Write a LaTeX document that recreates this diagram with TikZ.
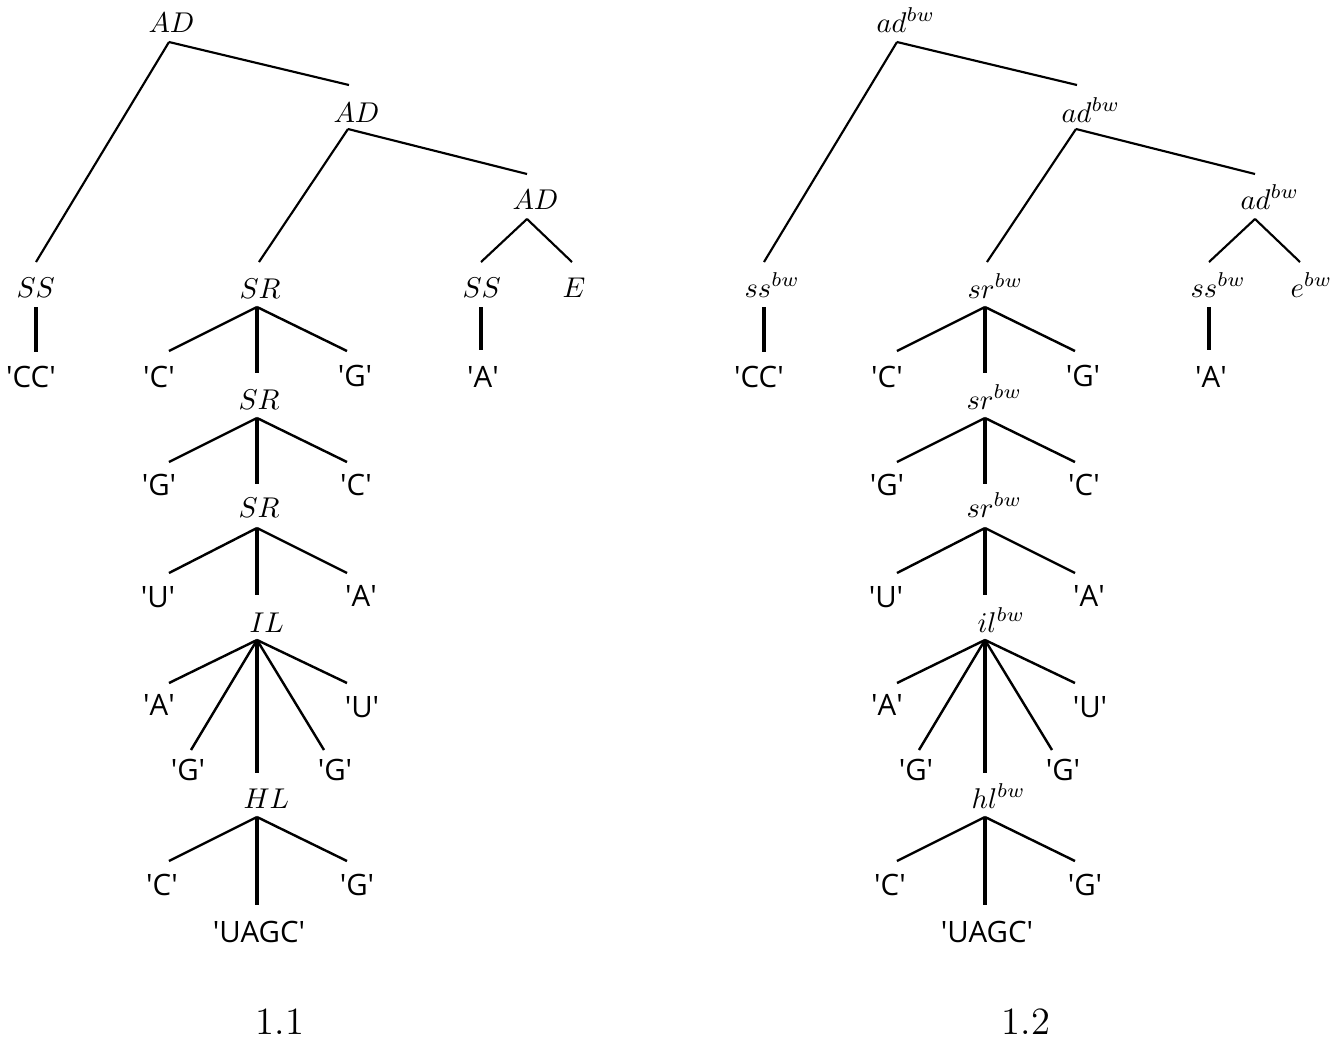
\documentclass[tikz,border=0pt]{standalone}
\usepackage{fontspec}
\newfontfamily\leaffont{Open Sans}[Ligatures=TeXOff]
\newcommand\qq{\textquotesingle}
\tikzset{
  lab/.style={anchor=base west, inner sep=0pt, font=\fontsize{10}{12}\selectfont},
  leaf/.style={anchor=base, inner sep=0pt, font=\leaffont\fontsize{10.3}{12}\selectfont},
  captext/.style={anchor=base, inner sep=0pt, font=\fontsize{13.5}{16}\selectfont},
  topedge/.style={line width=0.75pt},
  edge/.style={line width=0.85pt},
  vedge/.style={line width=1.3pt}
}
% #1 prefix, #2 AD, #3 SS, #4 SR, #5 E, #6 IL, #7 HL
\newcommand\rnatree[7]{%
  % upper part
  \node[lab] (#1ad1) at (148,32) {$#2$};
  \coordinate (#1ad1a) at (169,42);
  \node[lab] (#1ss1) at (16,297) {$#3$};
  \coordinate (#1ss1t) at (36,262);
  \coordinate (#1ss1a) at (36,307);
  \node[lab] (#1ad2) at (333,122) {$#2$};
  \coordinate (#1ad2t) at (349,85);
  \coordinate (#1ad2a) at (348,129);
  \node[lab] (#1sr1) at (239,298) {$#4$};
  \coordinate (#1sr1t) at (259,262);
  \coordinate (#1sr1a) at (257,307);
  \node[lab] (#1ad3) at (512,209) {$#2$};
  \coordinate (#1ad3t) at (527,174);
  \coordinate (#1ad3a) at (527,219);
  \node[lab] (#1ss2) at (462,297) {$#3$};
  \coordinate (#1ss2t) at (481,262);
  \coordinate (#1ss2a) at (481,307);
  \node[lab] (#1e) at (562,297) {$#5$};
  \coordinate (#1et) at (572,262);
  \draw[topedge] (#1ad1a) -- (#1ss1t);
  \draw[topedge] (#1ad1a) -- (#1ad2t);
  \draw[topedge] (#1ad2a) -- (#1sr1t);
  \draw[topedge] (#1ad2a) -- (#1ad3t);
  \draw[topedge] (#1ad3a) -- (#1ss2t);
  \draw[topedge] (#1ad3a) -- (#1et);
  % single strand leaves
  \node[leaf] (#1cc) at (31,387) {\qq CC\qq};
  \coordinate (#1cct) at (36,352);
  \draw[vedge] (#1ss1a) -- (#1cct);
  \node[leaf] (#1a0) at (483,387) {\qq A\qq};
  \coordinate (#1a0t) at (481,350);
  \draw[vedge] (#1ss2a) -- (#1a0t);
  % sr1
  \node[leaf] (#1c1) at (159,387) {\qq C\qq};
  \coordinate (#1c1t) at (169,351);
  \node[leaf] (#1g1) at (355,386) {\qq G\qq};
  \coordinate (#1g1t) at (347,351);
  \node[lab] (#1sr2) at (238,409) {$#4$};
  \coordinate (#1sr2t) at (257,373);
  \coordinate (#1sr2a) at (257,418);
  \draw[edge] (#1sr1a) -- (#1c1t);
  \draw[edge] (#1sr1a) -- (#1g1t);
  \draw[vedge] (#1sr1a) -- (#1sr2t);
  % sr2
  \node[leaf] (#1g2) at (159,495) {\qq G\qq};
  \coordinate (#1g2t) at (169,462);
  \node[leaf] (#1c2) at (356,495) {\qq C\qq};
  \coordinate (#1c2t) at (347,462);
  \node[lab] (#1sr3) at (238,517) {$#4$};
  \coordinate (#1sr3t) at (257,484);
  \coordinate (#1sr3a) at (257,528);
  \draw[edge] (#1sr2a) -- (#1g2t);
  \draw[edge] (#1sr2a) -- (#1c2t);
  \draw[vedge] (#1sr2a) -- (#1sr3t);
  % sr3
  \node[leaf] (#1u3) at (158,607) {\qq U\qq};
  \coordinate (#1u3t) at (169,573);
  \node[leaf] (#1a3) at (361,606) {\qq A\qq};
  \coordinate (#1a3t) at (347,573);
  \node[lab] (#1il) at (249,632) {$#6$};
  \coordinate (#1ilt) at (257,595);
  \coordinate (#1ila) at (257,640);
  \draw[edge] (#1sr3a) -- (#1u3t);
  \draw[edge] (#1sr3a) -- (#1a3t);
  \draw[vedge] (#1sr3a) -- (#1ilt);
  % il
  \node[leaf] (#1a4) at (159,715) {\qq A\qq};
  \coordinate (#1a4t) at (169,683);
  \node[leaf] (#1g4) at (188,780) {\qq G\qq};
  \coordinate (#1g4t) at (191,750);
  \node[leaf] (#1g5) at (335,780) {\qq G\qq};
  \coordinate (#1g5t) at (324,750);
  \node[leaf] (#1u4) at (362,717) {\qq U\qq};
  \coordinate (#1u4t) at (347,683);
  \node[lab] (#1hl) at (243,808) {$#7$};
  \coordinate (#1hlt) at (257,773);
  \coordinate (#1hla) at (257,817);
  \draw[edge] (#1ila) -- (#1a4t);
  \draw[edge] (#1ila) -- (#1g4t);
  \draw[vedge] (#1ila) -- (#1hlt);
  \draw[edge] (#1ila) -- (#1g5t);
  \draw[edge] (#1ila) -- (#1u4t);
  % hl
  \node[leaf] (#1c6) at (162,895) {\qq C\qq};
  \coordinate (#1c6t) at (169,861);
  \node[leaf] (#1g6) at (357,895) {\qq G\qq};
  \coordinate (#1g6t) at (347,861);
  \node[leaf] (#1uagc) at (259,942) {\qq UAGC\qq};
  \coordinate (#1uagct) at (257,905);
  \draw[edge] (#1hla) -- (#1c6t);
  \draw[edge] (#1hla) -- (#1g6t);
  \draw[vedge] (#1hla) -- (#1uagct);
}
\begin{document}
\begin{tikzpicture}[x=0.35pt,y=-0.35pt]
  \useasboundingbox (0,0) rectangle (1333,1040);
  \rnatree{L}{AD}{SS}{SR}{E}{IL}{HL}
  \begin{scope}[shift={(728,0)}]
    \rnatree{R}{ad^{bw}}{ss^{bw}}{sr^{bw}}{e^{bw}}{il^{bw}}{hl^{bw}}
  \end{scope}
  \node[captext] (cap1) at (280,1034) {1.1};
  \node[captext] (cap2) at (1026,1034) {1.2};
\end{tikzpicture}
\end{document}
